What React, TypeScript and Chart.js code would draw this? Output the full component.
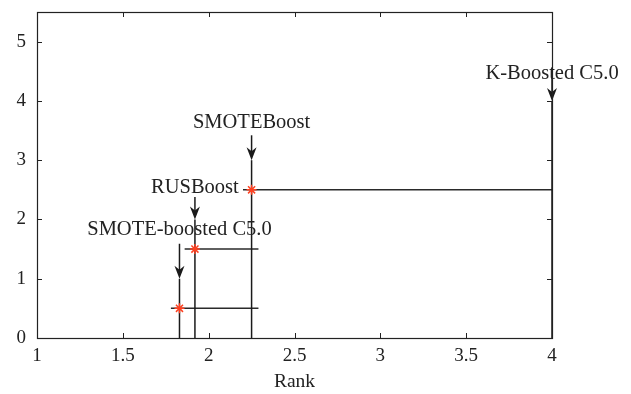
import React, { useEffect, useRef } from "react";
import { Chart, registerables } from "chart.js";

Chart.register(...registerables);

// Methods and their average ranks
const methods = ["SMOTE-boosted C5.0", "RUSBoost", "SMOTEBoost", "K-Boosted C5.0"];
const ranks = [1.83, 1.92, 2.25, 4.0];
const levels = [0.5, 1.5, 2.5, 3.5];
const showMarker = [true, true, true, false];
// arrow tips / tails and label heights (y units)
const arrowTips = [1.0, 2.0, 3.0, 4.0];
const arrowTails = [1.59, 2.38, 3.42, 4.4];
const labelYs = [1.83, 2.53, 3.64, 4.46];
// horizontal interval lines
const hStarts = [1.78, 1.86, 2.2];
const hEnds = [2.29, 2.29, 4.0];
const hLevels = [0.5, 1.5, 2.5];

const xTicks = [1, 1.5, 2, 2.5, 3, 3.5, 4];
const yTicks = [0, 1, 2, 3, 4, 5];
const xMin = 1, xMax = 4, yMin = 0, yMax = 5.5;

const FONT = "'Liberation Serif', 'Times New Roman', serif";
const TEXT = "#222";
const LINE = "#1a1a1a";

const decorPlugin = {
  id: "decor",
  afterDatasetsDraw(chart: any) {
    const ctx = chart.ctx;
    const xs = chart.scales.x;
    const ys = chart.scales.y;
    ctx.save();
    methods.forEach((m, i) => {
      const px = xs.getPixelForValue(ranks[i]);
      const tipY = ys.getPixelForValue(arrowTips[i]);
      const tailY = ys.getPixelForValue(arrowTails[i]);
      ctx.strokeStyle = LINE;
      ctx.lineWidth = 1.5;
      ctx.beginPath();
      ctx.moveTo(px, tailY);
      ctx.lineTo(px, tipY - 6);
      ctx.stroke();
      ctx.fillStyle = LINE;
      ctx.beginPath();
      ctx.moveTo(px, tipY);
      ctx.lineTo(px - 5, tipY - 13);
      ctx.lineTo(px, tipY - 9);
      ctx.lineTo(px + 5, tipY - 13);
      ctx.closePath();
      ctx.fill();
      ctx.fillStyle = TEXT;
      ctx.font = `20.5px ${FONT}`;
      ctx.textAlign = "center";
      ctx.textBaseline = "middle";
      ctx.fillText(m, px, ys.getPixelForValue(labelYs[i]));
    });
    ctx.restore();
  },
  afterDraw(chart: any) {
    const ctx = chart.ctx;
    const a = chart.chartArea;
    const xs = chart.scales.x;
    const ys = chart.scales.y;
    ctx.save();
    ctx.strokeStyle = "#222";
    ctx.lineWidth = 1;
    ctx.beginPath();
    const L = 5;
    xTicks.forEach((v) => {
      const p = Math.round(xs.getPixelForValue(v)) + 0.5;
      ctx.moveTo(p, a.bottom);
      ctx.lineTo(p, a.bottom - L);
      ctx.moveTo(p, a.top);
      ctx.lineTo(p, a.top + L);
    });
    yTicks.forEach((v) => {
      const p = Math.round(ys.getPixelForValue(v)) + 0.5;
      ctx.moveTo(a.left, p);
      ctx.lineTo(a.left + L, p);
      ctx.moveTo(a.right, p);
      ctx.lineTo(a.right - L, p);
    });
    ctx.stroke();
    ctx.lineWidth = 1.2;
    ctx.strokeRect(Math.round(a.left) + 0.5, Math.round(a.top) + 0.5, Math.round(a.right - a.left), Math.round(a.bottom - a.top));
    ctx.restore();
  },
};

export default function App() {
  const ref = useRef<HTMLCanvasElement>(null);
  useEffect(() => {
    if (!ref.current) return;
    const datasets: any[] = [];
    ranks.forEach((r, i) => {
      datasets.push({
        data: [{ x: r, y: 0 }, { x: r, y: arrowTips[i] }],
        showLine: true,
        borderColor: LINE,
        borderWidth: 1.5,
        pointRadius: 0,
      });
    });
    hStarts.forEach((s, i) => {
      datasets.push({
        data: [{ x: s, y: hLevels[i] }, { x: hEnds[i], y: hLevels[i] }],
        showLine: true,
        borderColor: "#2a2a2a",
        borderWidth: 1.5,
        pointRadius: 0,
      });
    });
    datasets.push({
      data: ranks.map((r, i) => ({ x: r, y: levels[i] })).filter((_, i) => showMarker[i]),
      showLine: false,
      order: -1,
      pointStyle: "star",
      pointRadius: 5,
      borderColor: "#ff4020",
      backgroundColor: "#ff4020",
      borderWidth: 1.5,
    });

    const tickFont = { family: FONT, size: 19 };
    const chart = new Chart(ref.current, {
      type: "scatter",
      data: { datasets },
      plugins: [decorPlugin],
      options: {
        animation: false,
        responsive: false,
        layout: { padding: { top: 12, right: 79, left: 0, bottom: 0 } },
        plugins: { legend: { display: false }, tooltip: { enabled: false } },
        scales: {
          x: {
            type: "linear",
            min: xMin,
            max: xMax,
            afterBuildTicks: (s: any) => {
              s.ticks = xTicks.map((v) => ({ value: v }));
            },
            afterFit: (s: any) => {
              s.height = 56;
              s.paddingLeft = 0;
              s.paddingRight = 0;
            },
            grid: { display: false, drawTicks: false },
            border: { display: false },
            ticks: {
              font: tickFont,
              color: TEXT,
              padding: 7,
              maxRotation: 0,
              autoSkip: false,
              callback: (v: any) => String(v),
            },
            title: { display: true, text: "Rank", font: { family: FONT, size: 19.5 }, color: TEXT, padding: { top: 1, bottom: 0 } },
          },
          y: {
            type: "linear",
            min: yMin,
            max: yMax,
            afterBuildTicks: (s: any) => {
              s.ticks = yTicks.map((v) => ({ value: v }));
            },
            afterFit: (s: any) => {
              s.width = 37;
              s.paddingTop = 0;
              s.paddingBottom = 0;
            },
            grid: { display: false, drawTicks: false },
            border: { display: false },
            ticks: { font: tickFont, color: TEXT, padding: 11, autoSkip: false, callback: (v: any) => String(v) },
          },
        },
      } as any,
    });
    return () => chart.destroy();
  }, []);
  return (
    <div style={{ position: "fixed", left: 0, top: 0, width: 631, height: 394, background: "#fff" }}>
      <canvas ref={ref} width={631} height={394} style={{ display: "block" }} />
    </div>
  );
}
